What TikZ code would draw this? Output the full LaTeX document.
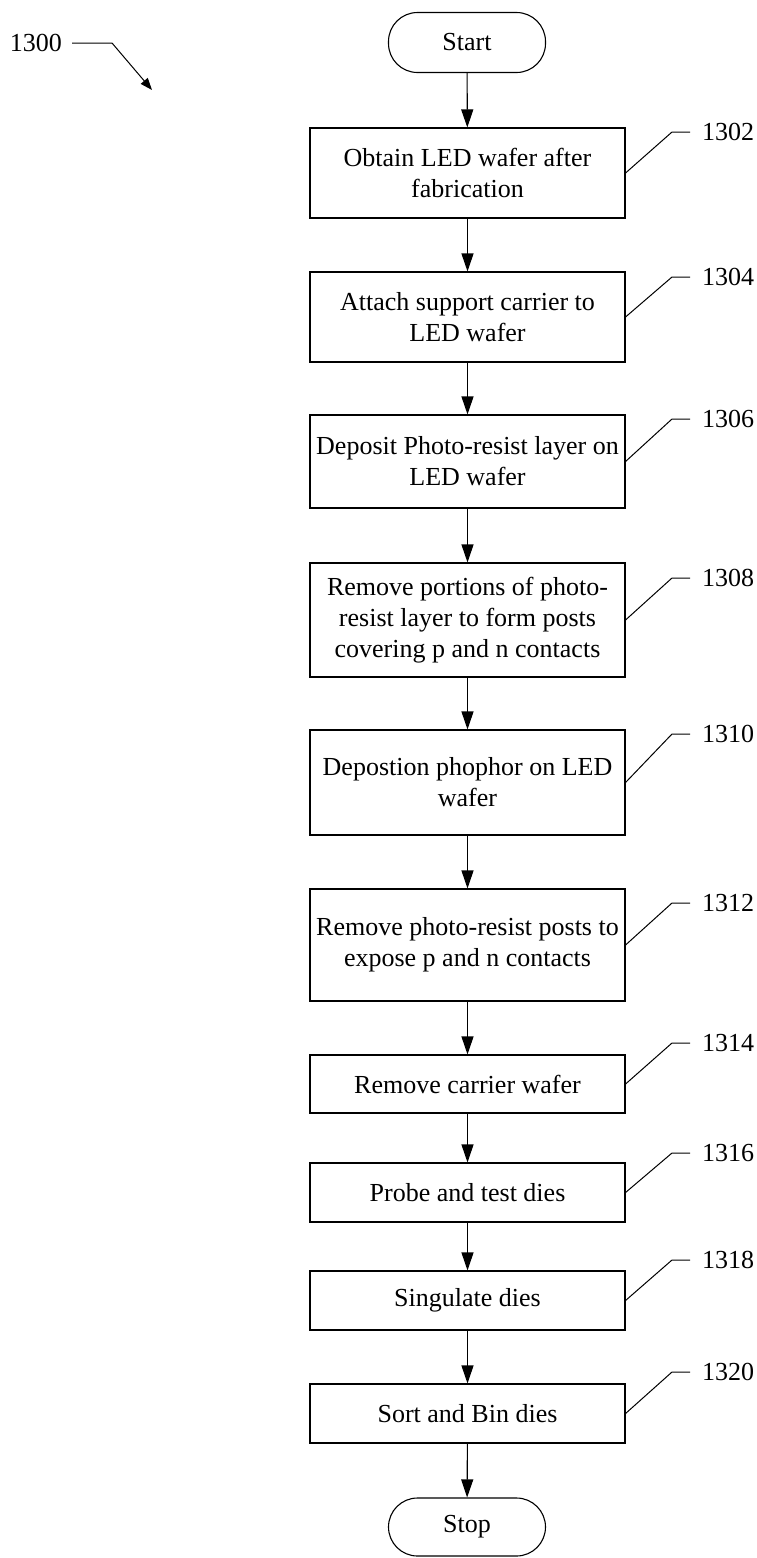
\documentclass[tikz,border=0pt]{standalone}
\usepackage{fontspec}
\setmainfont{Liberation Serif}
\usetikzlibrary{arrows.meta}
\begin{document}
\begin{tikzpicture}[x=1pt,y=-1pt,
  every node/.style={font=\fontsize{26}{31}\selectfont},
  stepbox/.style={draw,line width=1.1pt,minimum width=315pt,inner xsep=3pt,inner ysep=0pt,align=center},
  term/.style={draw,line width=1.1pt,rounded corners=29pt,minimum width=157pt,minimum height=60pt,inner sep=0pt},
  reflabel/.style={anchor=west,inner xsep=12pt,inner ysep=0pt},
  flow/.style={line width=1.1pt,-{Triangle[length=18pt,width=12pt]}},
  leader/.style={line width=1pt}
]
\useasboundingbox (0,0) rectangle (757,1558);

% terminals
\node[term] (start) at (467,42.5) {Start};
\node[term,minimum height=58pt] (stop) at (467,1527) {Stop};

% process boxes
\node[stepbox,minimum height=90pt] (b1) at (467.5,173) {Obtain LED wafer after\\fabrication};
\node[stepbox,minimum height=90pt] (b2) at (467.5,317) {Attach support carrier to\\LED wafer};
\node[stepbox,minimum height=93pt] (b3) at (467.5,461.5) {Deposit Photo-resist layer on\\LED wafer};
\node[stepbox,minimum height=114pt] (b4) at (467.5,620) {Remove portions of photo-\\resist layer to form posts\\covering p and n contacts};
\node[stepbox,minimum height=105pt] (b5) at (467.5,782.5) {Depostion phophor on LED\\wafer};
\node[stepbox,minimum height=112pt] (b6) at (467.5,945) {Remove photo-resist posts to\\expose p and n contacts};
\node[stepbox,minimum height=58pt] (b7) at (467.5,1084) {Remove carrier wafer};
\node[stepbox,minimum height=59pt] (b8) at (467.5,1192.5) {Probe and test dies};
\node[stepbox,minimum height=59pt] (b9) at (467.5,1300.5) {Singulate dies};
\node[stepbox,minimum height=59pt] (b10) at (467.5,1413.5) {Sort and Bin dies};

% flow arrows
\draw[flow] (start) -- (b1);
\draw[flow] (b1) -- (b2);
\draw[flow] (b2) -- (b3);
\draw[flow] (b3) -- (b4);
\draw[flow] (b4) -- (b5);
\draw[flow] (b5) -- (b6);
\draw[flow] (b6) -- (b7);
\draw[flow] (b7) -- (b8);
\draw[flow] (b8) -- (b9);
\draw[flow] (b9) -- (b10);
\draw[flow] (b10) -- (stop);

% reference labels
\node[reflabel] (l1) at (690,132) {1302};
\node[reflabel] (l2) at (690,277) {1304};
\node[reflabel] (l3) at (690,419) {1306};
\node[reflabel] (l4) at (690,578) {1308};
\node[reflabel] (l5) at (690,734) {1310};
\node[reflabel] (l6) at (690,903) {1312};
\node[reflabel] (l7) at (690,1043) {1314};
\node[reflabel] (l8) at (690,1153) {1316};
\node[reflabel] (l9) at (690,1260) {1318};
\node[reflabel] (l10) at (690,1372) {1320};

\foreach \i in {1,...,10}{
  \draw[leader] (l\i.west) -- ++(-18,0) -- (b\i.east);
}

% figure label
\node[anchor=east,inner xsep=10pt,inner ysep=0pt] (l0) at (72,43) {1300};
\coordinate (p0) at (152,90);
\draw[line width=1pt,-{Triangle[length=12pt,width=9pt]}] (l0.east) -- ++(40,0) -- (p0);
\end{tikzpicture}
\end{document}
